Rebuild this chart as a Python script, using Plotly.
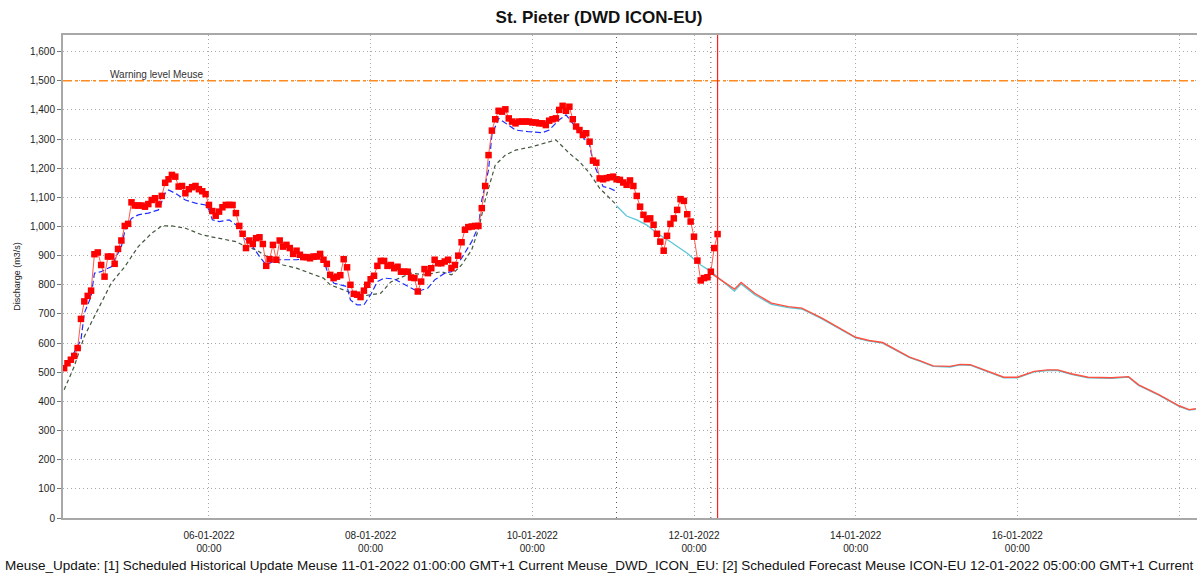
import pandas as pd
import plotly.graph_objects as go

# ---------------- data ----------------
obs_start = "2022-01-04 05:00"   # hourly observations
obs_values = [
    514, 531, 543, 556, 583, 683, 743, 762, 780, 905,
    911, 868, 828, 897, 897, 872, 923, 952, 1002, 1009,
    1083, 1072, 1072, 1072, 1068, 1077, 1091, 1097, 1076, 1105,
    1150, 1162, 1177, 1171, 1137, 1139, 1114, 1128, 1135, 1139,
    1128, 1121, 1111, 1074, 1053, 1037, 1051, 1066, 1074, 1074,
    1074, 1046, 1002, 975, 926, 952, 940, 960, 963, 940,
    865, 888, 937, 886, 952, 931, 937, 926, 906, 917,
    903, 895, 895, 891, 897, 897, 906, 886, 872, 834,
    823, 828, 833, 888, 860, 800, 769, 766, 758, 780,
    800, 819, 831, 865, 882, 882, 865, 868, 857, 862,
    845, 845, 845, 825, 823, 777, 811, 854, 840, 857,
    886, 874, 874, 880, 886, 857, 868, 900, 946, 989,
    998, 1000, 1002, 1002, 1063, 1139, 1245, 1329, 1368, 1397,
    1394, 1402, 1371, 1360, 1354, 1360, 1360, 1360, 1360, 1357,
    1357, 1354, 1354, 1348, 1363, 1368, 1371, 1400, 1414, 1397,
    1411, 1368, 1343, 1331, 1314, 1320, 1291, 1226, 1219, 1165,
    1162, 1166, 1169, 1171, 1162, 1160, 1151, 1143, 1158, 1139,
    1105, 1068, 1040, 1025, 1028, 1006, 975, 948, 917, 968,
    1009, 1028, 1057, 1094, 1088, 1042, 1017, 965, 883, 815,
    823, 826, 845, 926, 974,
]

blue_times = [
    "2022-01-04 05:00", "2022-01-04 08:00", "2022-01-04 10:00", "2022-01-04 11:00",
    "2022-01-04 13:00", "2022-01-04 14:00", "2022-01-04 16:00", "2022-01-04 17:00",
    "2022-01-04 19:00", "2022-01-04 20:00", "2022-01-04 22:00", "2022-01-04 23:00",
    "2022-01-05 01:00", "2022-01-05 03:00", "2022-01-05 06:00", "2022-01-05 09:00",
    "2022-01-05 11:00", "2022-01-05 12:00", "2022-01-05 14:00", "2022-01-05 17:00",
    "2022-01-05 20:00", "2022-01-05 23:00", "2022-01-06 00:00", "2022-01-06 01:00",
    "2022-01-06 03:00", "2022-01-06 06:00", "2022-01-06 08:00", "2022-01-06 10:00",
    "2022-01-06 13:00", "2022-01-06 15:00", "2022-01-06 17:00", "2022-01-06 20:00",
    "2022-01-06 23:00", "2022-01-07 02:00", "2022-01-07 06:00", "2022-01-07 10:00",
    "2022-01-07 11:00", "2022-01-07 13:00", "2022-01-07 15:00", "2022-01-07 17:00",
    "2022-01-07 18:00", "2022-01-07 20:00", "2022-01-07 22:00", "2022-01-08 00:00",
    "2022-01-08 02:00", "2022-01-08 04:00", "2022-01-08 07:00", "2022-01-08 11:00",
    "2022-01-08 14:00", "2022-01-08 17:00", "2022-01-08 19:00", "2022-01-08 22:00",
    "2022-01-09 00:00", "2022-01-09 03:00", "2022-01-09 06:00", "2022-01-09 08:00",
    "2022-01-09 09:00", "2022-01-09 11:00", "2022-01-09 12:00", "2022-01-09 14:00",
    "2022-01-09 16:00", "2022-01-09 19:00", "2022-01-09 23:00", "2022-01-10 03:00",
    "2022-01-10 05:00", "2022-01-10 08:00", "2022-01-10 10:00", "2022-01-10 12:00",
    "2022-01-10 14:00", "2022-01-10 17:00", "2022-01-10 18:00", "2022-01-10 20:00",
    "2022-01-10 21:00", "2022-01-10 23:00", "2022-01-11 01:00",
]
blue_values = [
    505, 566, 611, 703, 760, 840, 845, 851, 862, 886, 931, 983,
    1028, 1040, 1046, 1057, 1114, 1125, 1114, 1091, 1080, 1074, 1057, 1023,
    1017, 1023, 1006, 966, 931, 897, 868, 886, 886, 886, 891, 886,
    851, 806, 800, 794, 748, 731, 731, 766, 811, 823, 820, 794,
    777, 789, 817, 840, 845, 891, 948, 1000, 1091, 1194, 1314, 1371,
    1354, 1331, 1325, 1322, 1331, 1366, 1383, 1354, 1320, 1280, 1222, 1166,
    1137, 1131, 1120,
]

gray_times = [
    "2022-01-04 05:00", "2022-01-04 08:00", "2022-01-04 11:00", "2022-01-04 15:00",
    "2022-01-04 19:00", "2022-01-04 23:00", "2022-01-05 03:00", "2022-01-05 07:00",
    "2022-01-05 10:00", "2022-01-05 13:00", "2022-01-05 17:00", "2022-01-05 22:00",
    "2022-01-06 03:00", "2022-01-06 06:00", "2022-01-06 08:00", "2022-01-06 11:00",
    "2022-01-06 14:00", "2022-01-06 18:00", "2022-01-06 22:00", "2022-01-07 02:00",
    "2022-01-07 06:00", "2022-01-07 10:00", "2022-01-07 12:00", "2022-01-07 16:00",
    "2022-01-07 19:00", "2022-01-07 21:00", "2022-01-08 00:00", "2022-01-08 03:00",
    "2022-01-08 06:00", "2022-01-08 12:00", "2022-01-08 16:00", "2022-01-08 21:00",
    "2022-01-09 00:00", "2022-01-09 03:00", "2022-01-09 06:00", "2022-01-09 08:00",
    "2022-01-09 10:00", "2022-01-09 12:00", "2022-01-09 13:00", "2022-01-09 16:00",
    "2022-01-09 19:00", "2022-01-10 00:00", "2022-01-10 04:00", "2022-01-10 07:00",
    "2022-01-10 11:00", "2022-01-10 14:00", "2022-01-10 17:00", "2022-01-10 20:00",
    "2022-01-10 23:00", "2022-01-11 01:00",
]
gray_values = [
    440, 520, 623, 714, 806, 862, 931, 977, 1002, 1002, 994, 971,
    960, 952, 948, 931, 920, 891, 868, 857, 840, 823, 800, 783,
    771, 760, 766, 771, 810, 840, 834, 845, 834, 868, 920, 989,
    1091, 1171, 1211, 1245, 1262, 1274, 1288, 1297, 1251, 1222, 1183, 1131,
    1097, 1074,
]

cyan_times = [
    "2022-01-11 01:00", "2022-01-11 04:00", "2022-01-11 07:00", "2022-01-11 10:00",
    "2022-01-11 13:00", "2022-01-11 17:00", "2022-01-11 22:00", "2022-01-12 02:00",
    "2022-01-12 05:00", "2022-01-12 12:00", "2022-01-12 14:00", "2022-01-12 18:00",
    "2022-01-12 23:00", "2022-01-13 04:00", "2022-01-13 08:00", "2022-01-13 14:00",
    "2022-01-14 00:00", "2022-01-14 04:00", "2022-01-14 08:00", "2022-01-14 16:00",
    "2022-01-14 19:00", "2022-01-14 23:00", "2022-01-15 04:00", "2022-01-15 07:00",
    "2022-01-15 10:00", "2022-01-15 16:00", "2022-01-15 20:00", "2022-01-16 00:00",
    "2022-01-16 05:00", "2022-01-16 09:00", "2022-01-16 12:00", "2022-01-16 16:00",
    "2022-01-16 21:00", "2022-01-17 04:00", "2022-01-17 09:00", "2022-01-17 12:00",
    "2022-01-17 18:00", "2022-01-18 00:00", "2022-01-18 03:00", "2022-01-18 05:00",
]
cyan_values = [
    1071, 1036, 1023, 1005, 977, 948, 908, 868,
    846, 778, 803, 766, 733, 722, 717, 683,
    618, 607, 600, 550, 538, 520, 518, 525,
    524, 497, 481, 481, 501, 506, 506, 493,
    481, 479, 483, 455, 421, 383, 370, 373,
]

fc_times = [
    "2022-01-12 05:00", "2022-01-12 12:00", "2022-01-12 14:00", "2022-01-12 18:00",
    "2022-01-12 23:00", "2022-01-13 04:00", "2022-01-13 08:00", "2022-01-13 14:00",
    "2022-01-14 00:00", "2022-01-14 04:00", "2022-01-14 08:00", "2022-01-14 16:00",
    "2022-01-14 19:00", "2022-01-14 23:00", "2022-01-15 04:00", "2022-01-15 07:00",
    "2022-01-15 10:00", "2022-01-15 16:00", "2022-01-15 20:00", "2022-01-16 00:00",
    "2022-01-16 05:00", "2022-01-16 09:00", "2022-01-16 12:00", "2022-01-16 16:00",
    "2022-01-16 21:00", "2022-01-17 04:00", "2022-01-17 09:00", "2022-01-17 12:00",
    "2022-01-17 18:00", "2022-01-18 00:00", "2022-01-18 03:00", "2022-01-18 05:00",
]
fc_values = [
    840, 785, 808, 771, 737, 725, 720, 686,
    620, 609, 602, 552, 540, 522, 520, 527,
    526, 499, 483, 483, 503, 508, 508, 495,
    483, 481, 485, 457, 423, 385, 372, 375,
]

tick_dates = ["2022-01-06", "2022-01-08", "2022-01-10", "2022-01-12",
              "2022-01-14", "2022-01-16", "2022-01-18"]
tick_labels = ["06-01-2022<br>00:00", "08-01-2022<br>00:00", "10-01-2022<br>00:00",
               "12-01-2022<br>00:00", "14-01-2022<br>00:00", "16-01-2022<br>00:00", ""]

warning_level = 1500
hist_update_time = "2022-01-11 01:00"
fc_update_time = "2022-01-12 05:00"
now_time = "2022-01-12 07:00"

title = "St. Pieter (DWD ICON-EU)"
footer = ("Meuse_Update: [1] Scheduled Historical Update Meuse 11-01-2022 01:00:00 GMT+1 Current "
          "Meuse_DWD_ICON_EU: [2] Scheduled Forecast Meuse ICON-EU 12-01-2022 05:00:00 GMT+1 Current")

# ---------------- figure ----------------
FONT = "Liberation Sans, Arial, sans-serif"
GRID_DASH = "1px,3px"
obs_times = pd.date_range(obs_start, periods=len(obs_values), freq="h")

fig = go.Figure()
fig.add_trace(go.Scatter(x=gray_times, y=gray_values, mode="lines",
                         line=dict(color="#43573f", width=1.2, dash="4px,3px"),
                         hoverinfo="skip"))
fig.add_trace(go.Scatter(x=blue_times, y=blue_values, mode="lines",
                         line=dict(color="#1f2cff", width=1.2, dash="6px,3px"),
                         hoverinfo="skip"))
fig.add_trace(go.Scatter(x=cyan_times, y=cyan_values, mode="lines",
                         line=dict(color="#5cc6d6", width=1.3), hoverinfo="skip"))
fig.add_trace(go.Scatter(x=fc_times, y=fc_values, mode="lines",
                         line=dict(color="#ff5040", width=1.4), hoverinfo="skip"))
fig.add_trace(go.Scatter(x=obs_times, y=obs_values, mode="lines+markers",
                         line=dict(color="#ff5a4a", width=1),
                         marker=dict(symbol="square", size=6.5, color="#ff0000",
                                     line=dict(width=0)),
                         hoverinfo="skip"))

# warning level
fig.add_shape(type="line", xref="paper", yref="y", x0=0, x1=1,
              y0=warning_level, y1=warning_level,
              line=dict(color="#ff8a1e", width=1.5, dash="dashdot"))
fig.add_annotation(x="2022-01-04 18:00", y=warning_level, xref="x", yref="y",
                   text="Warning level Meuse", showarrow=False,
                   xanchor="left", yanchor="bottom", yshift=-1,
                   font=dict(family=FONT, size=10, color="#333333"))

# vertical markers
for t in (hist_update_time, fc_update_time):
    fig.add_shape(type="line", xref="x", yref="paper", x0=t, x1=t, y0=0, y1=1,
                  line=dict(color="#555555", width=1, dash="1px,4px"))
fig.add_shape(type="line", xref="x", yref="paper", x0=now_time, x1=now_time, y0=0, y1=1,
              line=dict(color="#ff2020", width=1.2))

fig.add_annotation(x=-0.0529, y=-0.099, xref="paper", yref="paper", text=footer,
                   showarrow=False, xanchor="left", yanchor="middle",
                   font=dict(family=FONT, size=13.5, color="#111111"))

fig.update_layout(
    width=1198, height=581,
    margin=dict(l=63, r=1, t=35, b=63),
    paper_bgcolor="white", plot_bgcolor="white",
    showlegend=False,
    title=dict(text="<b>" + title + "</b>", x=0.5, xanchor="center",
               y=1 - 17 / 581, yanchor="middle",
               font=dict(family=FONT, size=17, color="#111111")),
    font=dict(family=FONT),
)
fig.update_xaxes(
    type="date", range=["2022-01-04 04:40", "2022-01-18 05:20"],
    tickmode="array", tickvals=tick_dates, ticktext=tick_labels,
    showgrid=True, gridcolor="#a8a8a8", griddash=GRID_DASH, gridwidth=1,
    showline=True, linecolor="#a8a8a8", linewidth=2, mirror=True,
    ticks="outside", ticklen=7, tickcolor="#ffffff",
    tickfont=dict(family=FONT, size=10, color="#222222"),
    zeroline=False,
)
fig.update_yaxes(
    range=[0, 1657], tick0=0, dtick=100, tickformat=",",
    showgrid=True, gridcolor="#a8a8a8", griddash=GRID_DASH, gridwidth=1,
    showline=True, linecolor="#a8a8a8", linewidth=2,
    ticks="outside", ticklen=4, tickcolor="#777777",
    tickfont=dict(family=FONT, size=10, color="#222222"),
    title=dict(text="Discharge (m3/s)", font=dict(family=FONT, size=9, color="#222222"),
               standoff=8),
    zeroline=False,
)

fig.write_html("out.html", config={"displayModeBar": False},
               post_script="document.body.style.margin='0';")
